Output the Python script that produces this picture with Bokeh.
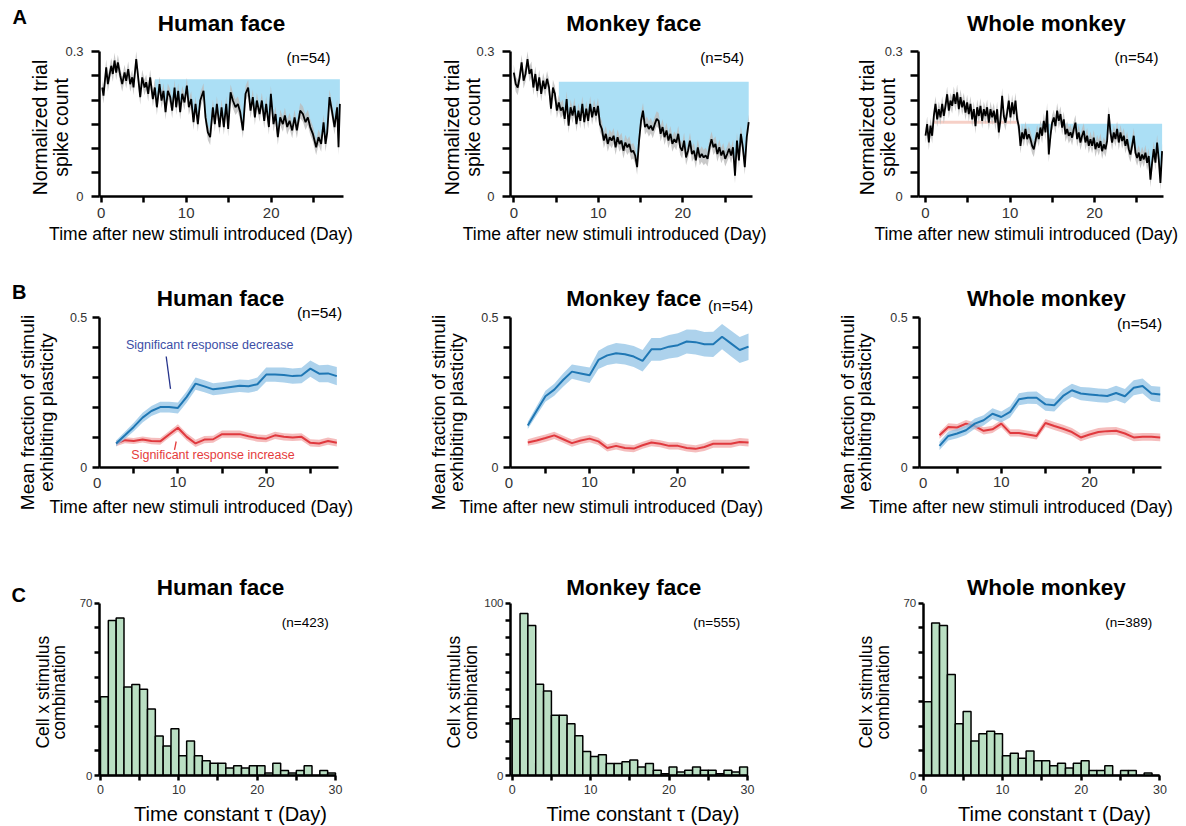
import math
import numpy as np
from bokeh.plotting import figure
from bokeh.layouts import column, row
from bokeh.models import FixedTicker, Label, Range1d, CustomJSTickFormatter
from bokeh.embed import file_html
from bokeh.resources import INLINE

FONT = "Liberation Sans"
TITLES = ["Human face", "Monkey face", "Whole monkey"]

# ---------------- Row A : normalized trial spike count ----------------
a1_days = [0.12, 0.27, 0.59, 0.78, 1.18, 1.37, 1.57, 1.76, 1.96, 2.24,
           2.47, 2.75, 2.94, 3.18, 3.41, 3.65, 3.80, 4.12, 4.31, 4.59,
           4.82, 5.10, 5.29, 5.53, 5.76, 6.08, 6.31, 6.55, 6.86, 7.10,
           7.33, 7.57, 7.84, 8.12, 8.35, 8.63, 8.82, 9.06, 9.29, 9.53,
           9.80, 10.08, 10.31, 10.59, 10.86, 11.10, 11.37, 11.65, 12.04, 12.27,
           12.55, 12.82, 13.14, 13.37, 13.61, 13.92, 14.16, 14.43, 14.71, 14.94,
           15.22, 15.49, 15.80, 16.08, 16.35, 16.67, 16.98, 17.29, 17.57, 17.84,
           18.08, 18.31, 18.63, 18.90, 19.18, 19.41, 19.73, 19.96, 20.27, 20.51,
           20.78, 21.06, 21.37, 21.61, 21.88, 22.16, 22.47, 22.75, 23.02, 23.41,
           23.73, 24.04, 24.31, 24.59, 24.90, 25.29, 25.57, 25.88, 26.16, 26.39,
           26.59, 26.86, 27.14, 27.45, 27.76, 27.92, 28.08]
a1_vals = [0.226, 0.209, 0.268, 0.233, 0.271, 0.254, 0.282, 0.257, 0.278, 0.251,
           0.233, 0.257, 0.240, 0.264, 0.233, 0.247, 0.226, 0.285, 0.254, 0.206,
           0.247, 0.226, 0.237, 0.213, 0.247, 0.202, 0.226, 0.185, 0.233, 0.199,
           0.219, 0.175, 0.219, 0.206, 0.178, 0.226, 0.185, 0.219, 0.175, 0.213,
           0.195, 0.230, 0.185, 0.202, 0.154, 0.192, 0.150, 0.199, 0.219, 0.164,
           0.133, 0.123, 0.185, 0.150, 0.192, 0.144, 0.185, 0.144, 0.192, 0.140,
           0.216, 0.199, 0.185, 0.192, 0.175, 0.137, 0.213, 0.226, 0.178, 0.206,
           0.164, 0.199, 0.171, 0.199, 0.157, 0.192, 0.144, 0.213, 0.150, 0.171,
           0.123, 0.164, 0.150, 0.168, 0.144, 0.157, 0.137, 0.164, 0.137, 0.178,
           0.171, 0.154, 0.164, 0.144, 0.130, 0.102, 0.123, 0.109, 0.154, 0.109,
           0.133, 0.206, 0.178, 0.144, 0.185, 0.102, 0.192]
a2_vals = [0.257, 0.233, 0.226, 0.247, 0.278, 0.240, 0.254, 0.285, 0.254, 0.264,
           0.226, 0.254, 0.219, 0.247, 0.213, 0.240, 0.223, 0.244, 0.226, 0.182,
           0.226, 0.213, 0.178, 0.195, 0.178, 0.185, 0.161, 0.202, 0.147, 0.185,
           0.168, 0.188, 0.150, 0.178, 0.157, 0.192, 0.154, 0.182, 0.157, 0.192,
           0.164, 0.185, 0.168, 0.188, 0.150, 0.140, 0.116, 0.130, 0.109, 0.123,
           0.116, 0.126, 0.102, 0.123, 0.109, 0.116, 0.095, 0.112, 0.102, 0.109,
           0.092, 0.095, 0.085, 0.061, 0.116, 0.157, 0.178,
           0.144, 0.150, 0.140, 0.147, 0.137, 0.150, 0.161, 0.157, 0.130, 0.144,
           0.123, 0.137, 0.116, 0.130, 0.109, 0.119, 0.112, 0.130, 0.102, 0.095,
           0.116, 0.081, 0.095, 0.116, 0.088, 0.095, 0.075, 0.102, 0.081, 0.088,
           0.081, 0.085, 0.078, 0.102, 0.119, 0.102, 0.109, 0.088, 0.102, 0.085,
           0.095, 0.078, 0.088, 0.099, 0.085, 0.102, 0.043, 0.116, 0.075, 0.130,
           0.102, 0.061, 0.123, 0.154]
a3_vals = [0.126, 0.150, 0.112, 0.147, 0.126, 0.167, 0.192, 0.160, 0.181, 0.164,
           0.192, 0.167, 0.188, 0.212, 0.178, 0.199, 0.188, 0.212, 0.192, 0.216,
           0.181, 0.206, 0.185, 0.199, 0.174, 0.195, 0.171, 0.192, 0.160, 0.181,
           0.146, 0.185, 0.167, 0.188, 0.157, 0.181, 0.167, 0.185, 0.153, 0.181,
           0.164, 0.178, 0.153, 0.181, 0.133, 0.160, 0.209, 0.167, 0.153, 0.174,
           0.199, 0.164, 0.195, 0.171, 0.199, 0.160, 0.146, 0.105, 0.133, 0.119,
           0.140, 0.119, 0.129, 0.119, 0.105, 0.098, 0.115, 0.133, 0.119, 0.143,
           0.126, 0.157, 0.133, 0.178, 0.087, 0.126, 0.153, 0.164, 0.146, 0.178,
           0.157, 0.171, 0.143, 0.160, 0.129, 0.140, 0.126, 0.133, 0.122, 0.140,
           0.153, 0.119, 0.133, 0.112, 0.126, 0.136, 0.112, 0.126, 0.105, 0.119,
           0.105, 0.122, 0.098, 0.112, 0.101, 0.115, 0.094, 0.108, 0.098, 0.115,
           0.171, 0.133, 0.112, 0.133, 0.119, 0.140, 0.112, 0.133, 0.115, 0.126,
           0.105, 0.119, 0.098, 0.087, 0.105, 0.126, 0.091, 0.080, 0.091, 0.074,
           0.087, 0.077, 0.091, 0.070, 0.084, 0.035, 0.070, 0.098, 0.070, 0.112,
           0.077, 0.028, 0.094]
a2_days = np.linspace(0.0, 27.8, len(a2_vals))   # evenly spaced sessions
a3_days = np.linspace(0.0, 28.0, len(a3_vals))
a_days = [np.array(a1_days), a2_days, a3_days]
a_vals = [np.array(a1_vals), np.array(a2_vals), np.array(a3_vals)]
a_baselines = [0.243, 0.238, 0.151]
a_fill_starts = [6.1, 5.1, 11.1]
a_sem = 0.016
a3_pink_height = 0.006
a_counts = ["(n=54)", "(n=54)", "(n=54)"]

# ---------------- Row B : fraction of stimuli with plasticity ----------------
b_days = list(range(3, 29))
b_dec = [
    [0.080, 0.107, 0.135, 0.166, 0.188, 0.201, 0.201, 0.198, 0.235, 0.279, 0.270, 0.260, 0.264,
     0.268, 0.272, 0.270, 0.277, 0.309, 0.309, 0.308, 0.304, 0.306, 0.329, 0.312, 0.313, 0.304],
    [0.140, 0.189, 0.237, 0.259, 0.291, 0.319, 0.313, 0.307, 0.358, 0.373, 0.380, 0.377, 0.369,
     0.355, 0.393, 0.393, 0.402, 0.407, 0.419, 0.417, 0.410, 0.410, 0.435, 0.413, 0.391, 0.402],
    [0.072, 0.105, 0.113, 0.124, 0.146, 0.157, 0.179, 0.168, 0.185, 0.227, 0.232, 0.232, 0.210,
     0.207, 0.238, 0.257, 0.246, 0.243, 0.240, 0.238, 0.248, 0.237, 0.265, 0.271, 0.246, 0.243],
]
b_inc = [
    [0.080, 0.091, 0.088, 0.093, 0.088, 0.087, 0.110, 0.132, 0.102, 0.080, 0.093, 0.094, 0.111,
     0.111, 0.111, 0.104, 0.098, 0.096, 0.107, 0.102, 0.100, 0.102, 0.082, 0.080, 0.088, 0.082],
    [0.083, 0.090, 0.098, 0.107, 0.094, 0.081, 0.090, 0.096, 0.087, 0.065, 0.072, 0.065, 0.063,
     0.074, 0.083, 0.079, 0.072, 0.072, 0.065, 0.062, 0.068, 0.079, 0.079, 0.079, 0.085, 0.083],
    [0.107, 0.135, 0.133, 0.146, 0.138, 0.122, 0.127, 0.146, 0.115, 0.115, 0.110, 0.105, 0.148,
     0.138, 0.129, 0.118, 0.100, 0.110, 0.118, 0.121, 0.122, 0.113, 0.100, 0.102, 0.102, 0.100],
]
b_dec_sem = [
    [0.010, 0.012, 0.014, 0.016, 0.017, 0.018, 0.018, 0.018, 0.019, 0.020, 0.020, 0.020, 0.020,
     0.020, 0.021, 0.021, 0.022, 0.024, 0.024, 0.025, 0.025, 0.026, 0.027, 0.028, 0.029, 0.030],
    [0.012, 0.015, 0.018, 0.020, 0.022, 0.024, 0.025, 0.026, 0.030, 0.032, 0.034, 0.034, 0.035,
     0.036, 0.038, 0.038, 0.039, 0.040, 0.040, 0.041, 0.041, 0.042, 0.042, 0.043, 0.043, 0.044],
    [0.014, 0.015, 0.016, 0.016, 0.017, 0.017, 0.018, 0.018, 0.019, 0.020, 0.020, 0.021, 0.021,
     0.021, 0.022, 0.022, 0.022, 0.023, 0.023, 0.023, 0.024, 0.024, 0.025, 0.025, 0.025, 0.026],
]
b_inc_sem = [
    [0.009, 0.010, 0.010, 0.010, 0.011, 0.011, 0.011, 0.012, 0.012, 0.012, 0.012, 0.012, 0.012,
     0.012, 0.012, 0.012, 0.012, 0.012, 0.012, 0.012, 0.012, 0.012, 0.012, 0.012, 0.012, 0.012],
    [0.011, 0.012, 0.012, 0.012, 0.012, 0.012, 0.012, 0.012, 0.012, 0.012, 0.012, 0.012, 0.012,
     0.012, 0.012, 0.012, 0.012, 0.012, 0.012, 0.012, 0.013, 0.013, 0.013, 0.013, 0.013, 0.013],
    [0.011, 0.012, 0.012, 0.012, 0.012, 0.012, 0.012, 0.012, 0.012, 0.012, 0.012, 0.012, 0.013,
     0.013, 0.013, 0.013, 0.013, 0.013, 0.013, 0.013, 0.013, 0.013, 0.013, 0.013, 0.013, 0.013],
]
b_counts = ["(n=54)", "(n=54)", "(n=54)"]
dec_label = "Significant response decrease"
inc_label = "Significant response increase"

# ---------------- Row C : time constant histograms ----------------
c_edges = list(range(31))
c_counts = [
    [32, 63, 64, 36, 37, 35, 27, 16, 12, 19, 8, 14, 8, 6, 5, 5, 3, 4, 3, 4, 4, 1, 5, 2, 1, 2, 4, 0, 2, 1],
    [33, 94, 87, 53, 49, 35, 35, 30, 23, 14, 11, 12, 7, 7, 8, 9, 5, 7, 3, 1, 5, 2, 3, 5, 3, 3, 1, 3, 2, 5],
    [30, 62, 61, 41, 21, 26, 14, 17, 18, 17, 8, 9, 7, 10, 6, 6, 4, 5, 3, 5, 6, 2, 2, 4, 0, 2, 2, 0, 1, 0],
]
c_ymax = [70, 100, 70]
c_ns = ["(n=423)", "(n=555)", "(n=389)"]

# ---------------- page geometry (pixels on the 1186 x 826 page) ----------------
ROW_TOP = [0, 262, 540]
ROW_H = [262, 278, 286]
COL_LEFT = [0, 400, 790]
COL_W = [400, 390, 396]
# x0/y0: page pixel of the data origin, sx/sy: pixels per data unit,
# ax: data x where the y axis sits, xend: end of the x axis line
GEOM = {
    (0, 0): dict(x0=100.7, sx=8.5, y0=196.0, sy=482.3, ax=-0.2, xend=28.5),
    (0, 1): dict(x0=513.3, sx=8.45, y0=196.0, sy=482.3, ax=-0.39, xend=28.3),
    (0, 2): dict(x0=925.0, sx=8.45, y0=196.0, sy=482.3, ax=-0.79, xend=28.2),
    (1, 0): dict(x0=89.1, sx=8.83, y0=467.0, sy=300.6, ax=1.1, xend=28.2),
    (1, 1): dict(x0=500.8, sx=8.83, y0=467.0, sy=300.6, ax=1.05, xend=28.1),
    (1, 2): dict(x0=912.5, sx=8.83, y0=467.0, sy=300.6, ax=0.75, xend=28.1),
    (2, 0): dict(x0=100.0, sx=7.833, y0=775.0, sy=2.461, ax=-0.13, xend=30.0),
    (2, 1): dict(x0=511.7, sx=7.843, y0=775.0, sy=1.723, ax=-0.22, xend=30.0),
    (2, 2): dict(x0=923.3, sx=7.87, y0=775.0, sy=2.461, ax=-0.08, xend=30.0),
}
# text placement (page pixels, glyph baselines): titles (center x, baseline y)
TITLE_POS = [[(221, 31), (633.3, 31), (1045.8, 31)],
             [(220, 306), (633.3, 306), (1045.8, 306)],
             [(220, 595), (633.3, 595), (1045.8, 595)]]
LETTER_POS = [(19.2, 23.3), (18.8, 298.3), (18.3, 601.7)]
NPOS = [[(308, 62.5), (721.7, 62.5), (1136, 62.5)],
        [(319, 317), (730, 310.5), (1139, 328.5)],
        [(304.8, 627), (716.3, 627), (1128.3, 627)]]
YLAB_POS = [[(46.7, 67.5, 127), (458.3, 479, 127), (873.3, 894, 127)],
            [(33.3, 52.7, 412), (445, 463, 412), (853.3, 871, 412)],
            [(48.3, 65, 691.7), (460, 476.7, 691.7), (871.7, 889, 691.7)]]
XLAB_POS = [[(200.5, 240), (614.2, 240), (1025.8, 240)],
            [(200.8, 513), (610.8, 513), (1020.5, 513)],
            [(230, 820), (642.5, 820), (1054, 820)]]
BASELINE_SHIFT = 0.35   # renderer places the alphabetic baseline this many em lower
ROW_STYLE = [
    dict(ylab=("Normalized trial", "spike count"), ylab_size=19.5,
         xlab="Time after new stimuli introduced (Day)", xlab_size=17.5, n_size=15,
         xt_size="15px", yt_size="13px", xt_out=6, yt_out=8, xt_sd=5, yt_sd=8),
    dict(ylab=("Mean fraction of stimuli", "exhibiting plasticity"), ylab_size=19,
         xlab="Time after new stimuli introduced (Day)", xlab_size=17.5, n_size=15.5,
         xt_size="15px", yt_size="12.5px", xt_out=6, yt_out=7, xt_sd=3, yt_sd=5),
    dict(ylab=("Cell x stimulus", "combination"), ylab_size=17.5,
         xlab="Time constant \u03c4 (Day)", xlab_size=20, n_size=13.5,
         xt_size="12.5px", yt_size="11.5px", xt_out=5, yt_out=5, xt_sd=4, yt_sd=2),
]

fmt = CustomJSTickFormatter(code="return String(tick)")


def make_panel(r, c, yaxis_top):
    g = GEOM[(r, c)]
    W, H = COL_W[c], ROW_H[r]
    left, top = COL_LEFT[c], ROW_TOP[r]
    x0 = g["x0"] - left
    y0 = g["y0"] - top
    p = figure(width=W, height=H,
               x_range=Range1d(-x0 / g["sx"], (W - x0) / g["sx"]),
               y_range=Range1d((y0 - H) / g["sy"], y0 / g["sy"]),
               output_backend="svg", toolbar_location=None, min_border=0)
    p.outline_line_color = None
    p.grid.visible = False
    p.xaxis.fixed_location = 0
    p.yaxis.fixed_location = g["ax"]
    p.xaxis.bounds = (g["ax"], g["xend"])
    p.yaxis.bounds = (0, yaxis_top)
    st = ROW_STYLE[r]
    for ax, size, out, sd in ((p.xaxis[0], st["xt_size"], st["xt_out"], st["xt_sd"]),
                              (p.yaxis[0], st["yt_size"], st["yt_out"], st["yt_sd"])):
        ax.axis_line_width = 2.5
        ax.axis_line_color = "black"
        ax.major_tick_line_width = 2.5
        ax.minor_tick_line_width = 2.5
        ax.major_tick_out = out
        ax.minor_tick_out = out
        ax.major_tick_in = 0
        ax.minor_tick_in = 0
        ax.major_label_text_font = FONT
        ax.major_label_text_font_size = size
        ax.major_label_text_color = "#333333"
        ax.major_label_standoff = sd
        ax.formatter = fmt

    def at(px, py):
        return ((px - g["x0"]) / g["sx"], (g["y0"] - py) / g["sy"])

    def text(px, py, s, size, color="black", style="normal", align="center",
             baseline="alphabetic", angle=0.0):
        if baseline == "alphabetic":
            if angle:
                px -= BASELINE_SHIFT * size
            else:
                py -= BASELINE_SHIFT * size
        x, y = at(px, py)
        p.add_layout(Label(x=x, y=y, text=s, text_font=FONT, text_font_size=f"{size}px",
                           text_color=color, text_font_style=style, text_align=align,
                           text_baseline=baseline, angle=angle))

    # titles, letters, counts and axis titles
    tx, ty = TITLE_POS[r][c]
    text(tx, ty, TITLES[c], 22.5, style="bold")
    nx, ny = NPOS[r][c]
    text(nx, ny, [a_counts, b_counts, c_ns][r][c], st["n_size"])
    if c == 0:
        lx, ly = LETTER_POS[r]
        text(lx, ly, "ABC"[r], 20, style="bold")
    b1, b2, yc = YLAB_POS[r][c]
    text(b1, yc, st["ylab"][0], st["ylab_size"], angle=math.pi / 2)
    text(b2, yc, st["ylab"][1], st["ylab_size"], angle=math.pi / 2)
    xx, xy = XLAB_POS[r][c]
    text(xx, xy, st["xlab"], st["xlab_size"])
    return p, at, text


# ---------------- build row A ----------------
row_a = []
for i in range(3):
    p, at, text = make_panel(0, i, 0.3)
    d, v, base = a_days[i], a_vals[i], a_baselines[i]
    m = d >= a_fill_starts[i]
    p.varea(x=d[m], y1=np.minimum(v[m], base), y2=base, fill_color="#abdff5", fill_alpha=1.0)
    if i == 2:
        mp = d <= a_fill_starts[i]
        p.varea(x=d[mp], y1=base, y2=np.clip(v[mp], base, base + a3_pink_height),
                fill_color="#f4c4b9", fill_alpha=0.8)
    p.varea(x=d, y1=v - a_sem, y2=v + a_sem, fill_color="#bcbcbc", fill_alpha=0.8)
    p.line(d, v, line_color="black", line_width=1.8)
    p.xaxis.ticker = FixedTicker(ticks=[0, 10, 20], minor_ticks=[5, 15, 25])
    p.yaxis.ticker = FixedTicker(ticks=[0, 0.3], minor_ticks=[0.05, 0.1, 0.15, 0.2, 0.25])
    row_a.append(p)

# ---------------- build row B ----------------
row_b = []
ZERO_X = [96.7, 508.3, 922.7]
for i in range(3):
    p, at, text = make_panel(1, i, 0.5)
    dec = np.array(b_dec[i]); decs = np.array(b_dec_sem[i])
    inc = np.array(b_inc[i]); incs = np.array(b_inc_sem[i])
    p.varea(x=b_days, y1=inc - incs, y2=inc + incs, fill_color="#f2a7a7", fill_alpha=0.75)
    p.line(b_days, inc, line_color="#e0393e", line_width=2)
    p.varea(x=b_days, y1=dec - decs, y2=dec + decs, fill_color="#92c3e6", fill_alpha=0.75)
    p.line(b_days, dec, line_color="#1f77b4", line_width=2)
    p.xaxis.ticker = FixedTicker(ticks=[10, 20], minor_ticks=[5, 15, 25])
    p.yaxis.ticker = FixedTicker(ticks=[0, 0.5], minor_ticks=[0.1, 0.2, 0.3, 0.4])
    # the "0" day label sits at the corner, left of the first tick
    text(ZERO_X[i], 487.5, "0", 15, color="#333333")
    if i == 0:
        text(209.2, 349, dec_label, 12.5, color="#3b4ea6")
        text(212.5, 459, inc_label, 12.5, color="#e53c3c")
        (bx0, by0), (bx1, by1) = at(165.7, 356), at(170, 388.3)
        (rx0, ry0), (rx1, ry1) = at(175.7, 441), at(174, 449.3)
        p.segment(x0=[bx0], y0=[by0], x1=[bx1], y1=[by1], line_color="#26348c", line_width=1.3)
        p.segment(x0=[rx0], y0=[ry0], x1=[rx1], y1=[ry1], line_color="#e53c3c", line_width=1.3)
    row_b.append(p)

# ---------------- build row C ----------------
row_c = []
for i in range(3):
    ymax = c_ymax[i]
    p, at, text = make_panel(2, i, ymax)
    p.quad(left=c_edges[:-1], right=c_edges[1:], bottom=0, top=c_counts[i],
           fill_color="#badfc3", line_color="black", line_width=1.5)
    p.xaxis.ticker = FixedTicker(ticks=[0, 10, 20, 30], minor_ticks=[5, 15, 25])
    p.yaxis.ticker = FixedTicker(ticks=[0, ymax], minor_ticks=list(range(10, ymax, 10)))
    row_c.append(p)

layout = column(row(*row_a), row(*row_b), row(*row_c))
open("out.html", "w").write(file_html(layout, INLINE))
